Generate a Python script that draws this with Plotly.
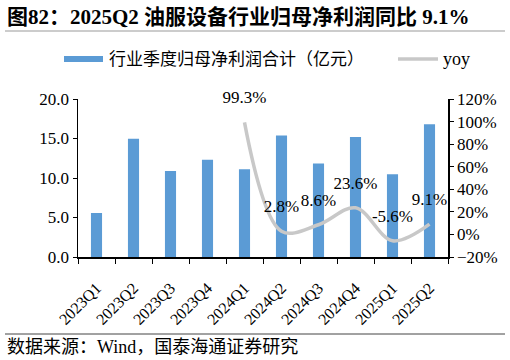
import plotly.graph_objects as go

categories = ["2023Q1", "2023Q2", "2023Q3", "2023Q4", "2024Q1",
              "2024Q2", "2024Q3", "2024Q4", "2025Q1", "2025Q2"]
profit = [5.57, 14.97, 10.9, 12.3, 11.1, 15.39, 11.84, 15.2, 10.48, 16.8]
yoy = [None, None, None, None, 99.3, 2.8, 8.6, 23.6, -5.6, 9.1]
yoy_labels = ["" if v is None else f"{v:.1f}%" for v in yoy]

bar_name = "行业季度归母净利润合计（亿元）"
line_name = "yoy"
title_text = "<b>图82：2025Q2 油服设备行业归母净利润同比 9.1%</b>"
source_text = "数据来源：Wind，国泰海通证券研究"

FONT = "Liberation Serif, Times New Roman, Noto Sans CJK SC"
BLUE = "#5b9bd5"
GREY = "#c8c8c8"

fig = go.Figure()
fig.add_trace(go.Bar(x=categories, y=profit, name=bar_name,
                     marker=dict(color=BLUE, line=dict(width=0)), yaxis="y",
                     hoverinfo="skip"))
fig.add_trace(go.Scatter(x=categories, y=yoy, name=line_name, yaxis="y2",
                         mode="lines+markers+text",
                         line=dict(color=GREY, width=3.5, shape="spline", smoothing=1.0),
                         marker=dict(size=22, color="rgba(0,0,0,0)"),
                         text=yoy_labels, textposition="top center",
                         textfont=dict(family=FONT, size=17, color="black"),
                         cliponaxis=False, hoverinfo="skip"))

fig.update_layout(
    width=510, height=360,
    margin=dict(l=78, r=62, t=99, b=103),
    paper_bgcolor="white", plot_bgcolor="white",
    showlegend=False, bargap=0.7, hovermode=False,
    font=dict(family=FONT, size=16, color="black"),
    xaxis=dict(type="category", range=[-0.5, len(categories) - 0.5],
               showline=True, linecolor="black", linewidth=1.5,
               ticks="outside", tickson="boundaries", ticklen=5, tickcolor="black",
               tickangle=-45, tickfont=dict(size=16), showgrid=False,
               ticklabelstandoff=14, automargin=False),
    yaxis=dict(range=[0, 20], dtick=5, tickformat=".1f", showline=True,
               linecolor="black", linewidth=1.5, ticks="outside", ticklen=4,
               tickcolor="black", showgrid=False, zeroline=False,
               tickfont=dict(size=17), automargin=False),
    yaxis2=dict(range=[-20, 120], dtick=20, ticksuffix="%", overlaying="y",
                side="right", showline=True, linecolor="black", linewidth=1.5,
                ticks="outside", ticklen=4, tickcolor="black", showgrid=False,
                zeroline=False, tickfont=dict(size=17), automargin=False),
)

shapes = [
    dict(type="line", xref="paper", yref="paper", x0=-73/370, x1=(505-78)/370,
         y0=(257-31)/158, y1=(257-31)/158, line=dict(color="#999999", width=1.2)),
    dict(type="line", xref="paper", yref="paper", x0=-73/370, x1=(505-78)/370,
         y0=(257-334)/158, y1=(257-334)/158, line=dict(color="#444444", width=1)),
    dict(type="rect", xref="paper", yref="paper", x0=(64-78)/370, x1=(103-78)/370,
         y0=(257-62)/158, y1=(257-56)/158, fillcolor=BLUE, line=dict(width=0)),
    dict(type="line", xref="paper", yref="paper", x0=(398-78)/370, x1=(438-78)/370,
         y0=(257-59)/158, y1=(257-59)/158, line=dict(color=GREY, width=3.5)),
]
fig.update_layout(shapes=shapes)

annos = [
    dict(text=title_text, x=5, y=17, font=dict(size=21)),
    dict(text=bar_name, x=107, y=59, font=dict(size=17)),
    dict(text=line_name, x=441, y=59, font=dict(size=18)),
    dict(text=source_text, x=5, y=347, font=dict(size=18)),
]
for a in annos:
    fig.add_annotation(text=a["text"], xref="paper", yref="paper",
                       x=(a["x"]-78)/370, y=(257-a["y"])/158,
                       xanchor="left", yanchor="middle", showarrow=False,
                       font=dict(family=FONT, color="black", size=a["font"]["size"]))

fig.write_html("out.html", config={"displayModeBar": False, "staticPlot": True},
               post_script="document.body.style.margin='0';document.body.style.overflow='hidden';")
